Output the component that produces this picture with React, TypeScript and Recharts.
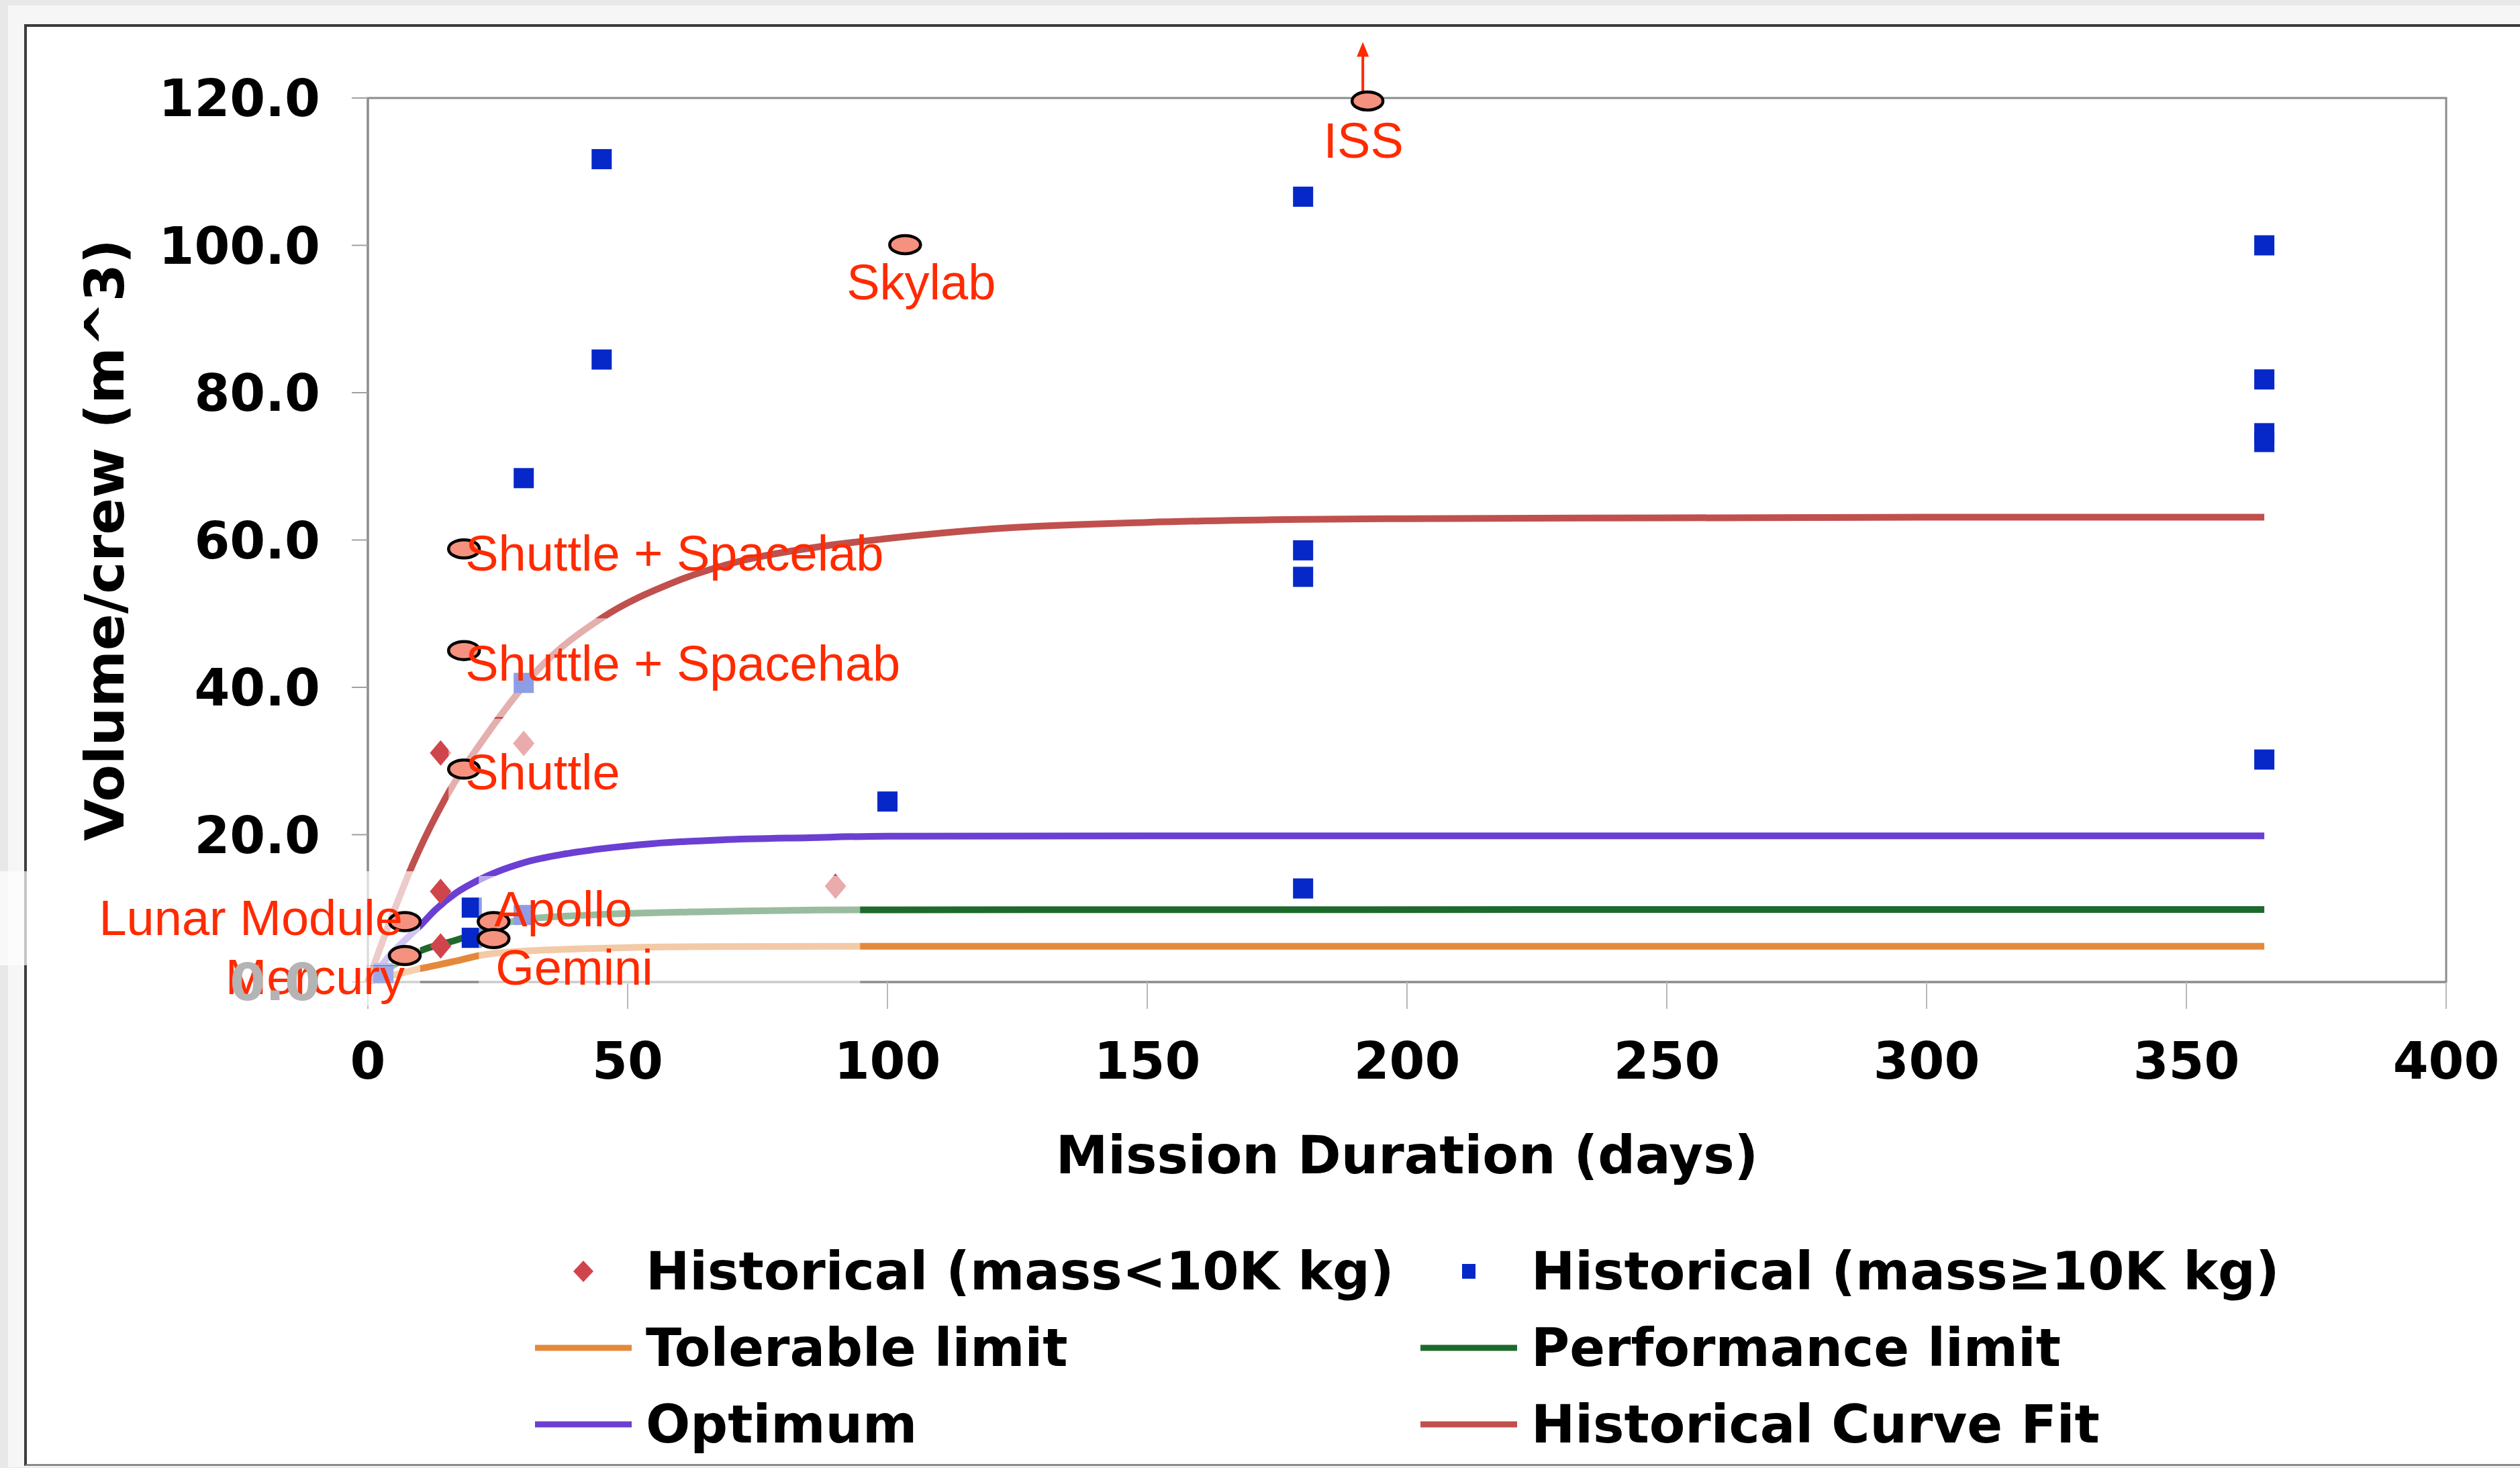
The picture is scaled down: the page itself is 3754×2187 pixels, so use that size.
import { ComposedChart, Line, Scatter, XAxis, YAxis, ReferenceArea } from 'recharts';

const W = 3754;
const H = 2187;

const xTicks = [0, 50, 100, 150, 200, 250, 300, 350, 400];
const yTicks = [0, 20, 40, 60, 80, 100, 120];

// historical missions, mass < 10K kg
const lightDays = [14, 14, 14, 30, 90];
const lightVolume = [31.1, 12.3, 4.9, 32.4, 13.0];

// historical missions, mass >= 10K kg
const heavyDays = [45, 45, 30, 30, 20, 20, 30, 3, 100, 180, 180, 180, 180, 365, 365, 365, 365, 365];
const heavyVolume = [111.7, 84.5, 68.4, 40.6, 10.1, 6.0, 9.1, 1.2, 24.5, 106.6, 58.6, 55.0, 12.7, 100.0, 81.8, 74.5, 73.3, 30.2];

// curves
const fitDays = [0, 5, 8.6, 14.8, 23, 33, 45, 59, 72, 86, 100, 120, 150, 180, 200, 250, 300, 365];
const fitVolume = [0, 9.6, 15.9, 24.8, 33.7, 42.6, 49.4, 54.3, 57.2, 59.0, 60.2, 61.5, 62.4, 62.8, 62.9, 63.0, 63.1, 63.1];

const optimumDays = [0, 5, 10, 13, 17, 21.5, 30, 38, 45, 55, 68, 85, 100, 150, 365];
const optimumVolume = [0, 4.2, 7.6, 9.8, 12.1, 13.9, 16.2, 17.4, 18.1, 18.8, 19.3, 19.6, 19.8, 19.85, 19.85];

const performanceDays = [0, 5, 10, 17, 30, 43, 65, 100, 365];
const performanceVolume = [0, 2.3, 4.2, 5.7, 8.5, 9.1, 9.55, 9.8, 9.85];

const tolerableDays = [0, 10, 17, 21.5, 30, 65, 100, 365];
const tolerableVolume = [0, 1.8, 2.85, 3.6, 4.2, 4.8, 4.85, 4.85];

// annotated spacecraft
const missionNames = ['ISS', 'Skylab', 'Shuttle + Spacelab', 'Shuttle + Spacehab', 'Shuttle', 'Lunar Module', 'Mercury', 'Apollo', 'Gemini'];
const missionDays = [192.4, 103.4, 18.5, 18.5, 18.5, 7.1, 7.1, 24.2, 24.2];
const missionVolume = [119.6, 100.1, 58.8, 45.0, 28.9, 8.2, 3.6, 8.2, 5.9];

const seriesNames = [
  'Historical (mass<10K kg)',
  'Historical (mass≥10K kg)',
  'Tolerable limit',
  'Performance limit',
  'Optimum',
  'Historical Curve Fit',
];

const COLORS = {
  light: '#d0454b',
  heavy: '#0628c8',
  tolerable: '#e4893c',
  performance: '#1e6a2c',
  optimum: '#6b3fd2',
  fit: '#c0504d',
  note: '#ff2a00',
  marker: '#f5917f',
  axis: '#8c8c8c',
};

const BOLD_FONT = '"DejaVu Sans", Verdana, sans-serif';
const NOTE_FONT = '"Liberation Sans", Arial, sans-serif';

type Veil = { x0: number; x1: number; y0: number; y1: number; o: number };

// where each mission label sits relative to its marker, and the pale box behind it
const labelPlace: Record<string, { dx: number; dy: number; anchor: 'start' | 'middle' | 'end'; veil?: Veil }> = {
  ISS: { dx: -6, dy: 85, anchor: 'middle' },
  Skylab: { dx: 24, dy: 82, anchor: 'middle' },
  'Shuttle + Spacelab': { dx: 2, dy: 32, anchor: 'start' },
  'Shuttle + Spacehab': { dx: 2, dy: 45, anchor: 'start', veil: { x0: -23, x1: 655, y0: -48, y1: 99, o: 0.55 } },
  Shuttle: { dx: 2, dy: 30, anchor: 'start', veil: { x0: -23, x1: 200, y0: -75, y1: 74, o: 0.55 } },
  'Lunar Module': { dx: -3, dy: 20, anchor: 'end', veil: { x0: -603, x1: 23, y0: -75, y1: 65, o: 0.7 } },
  Mercury: { dx: 0, dy: 58, anchor: 'end', veil: { x0: -270, x1: 23, y0: 15, y1: 75, o: 0.6 } },
  Apollo: { dx: 1, dy: 7, anchor: 'start', veil: { x0: -22, x1: 546, y0: -68, y1: 92, o: 0.55 } },
  Gemini: { dx: 3, dy: 69, anchor: 'start' },
};

const toPoints = (days: number[], vol: number[]) => days.map((d, i) => ({ d, v: vol[i] }));

const lightData = toPoints(lightDays, lightVolume);
const heavyData = toPoints(heavyDays, heavyVolume);
const fitData = toPoints(fitDays, fitVolume);
const optimumData = toPoints(optimumDays, optimumVolume);
const performanceData = toPoints(performanceDays, performanceVolume);
const tolerableData = toPoints(tolerableDays, tolerableVolume);
const missionData = missionNames.map((name, i) => ({ name, d: missionDays[i], v: missionVolume[i] }));

function Square(p: any) {
  const s = 30;
  return <rect x={p.cx - s / 2} y={p.cy - s / 2} width={s} height={s} fill={COLORS.heavy} />;
}

function Diamond(p: any) {
  const w = 16;
  const h = 19;
  return (
    <polygon
      points={`${p.cx},${p.cy - h} ${p.cx + w},${p.cy} ${p.cx},${p.cy + h} ${p.cx - w},${p.cy}`}
      fill={COLORS.light}
    />
  );
}

function MissionMark(p: any) {
  const name: string = p.payload.name;
  const place = labelPlace[name];
  const veil = place.veil;
  return (
    <g>
      {veil && (
        <rect
          x={p.cx + veil.x0}
          y={p.cy + veil.y0}
          width={veil.x1 - veil.x0}
          height={veil.y1 - veil.y0}
          fill="#fff"
          fillOpacity={veil.o}
        />
      )}
      {name === 'ISS' && (
        <g>
          <line x1={p.cx - 7} y1={p.cy - 12} x2={p.cx - 7} y2={p.cy - 70} stroke={COLORS.note} strokeWidth={4} />
          <polygon
            points={`${p.cx - 7},${p.cy - 88} ${p.cx - 16},${p.cy - 66} ${p.cx + 2},${p.cy - 66}`}
            fill={COLORS.note}
          />
        </g>
      )}
      <ellipse cx={p.cx} cy={p.cy} rx={23} ry={13.5} fill={COLORS.marker} stroke="#000" strokeWidth={4.5} />
      <text
        x={p.cx + place.dx}
        y={p.cy + place.dy}
        textAnchor={place.anchor}
        fontFamily={NOTE_FONT}
        fontSize={74}
        fill={COLORS.note}
      >
        {name}
      </text>
    </g>
  );
}

// the 0.0 label sits under the Mercury note and shows through faded
function YTick(p: any) {
  const v: number = p.payload.value;
  return (
    <text
      x={p.x}
      y={p.y}
      dy="0.36em"
      textAnchor="end"
      fontFamily={BOLD_FONT}
      fontSize={76}
      fontWeight="bold"
      fill={v === 0 ? '#b4b4b4' : '#000'}
    >
      {v.toFixed(1)}
    </text>
  );
}

function LegendMarker({ kind, color }: { kind: string; color: string }) {
  return (
    <svg width={144} height={40} style={{ display: 'block' }}>
      {kind === 'line' && <line x1={0} y1={20} x2={144} y2={20} stroke={color} strokeWidth={9} />}
      {kind === 'diamond' && <polygon points="72,4 87,20 72,36 57,20" fill={color} />}
      {kind === 'square' && <rect x={62} y={9} width={20} height={22} fill={color} />}
    </svg>
  );
}

const legendItems = [
  { name: seriesNames[0], kind: 'diamond', color: COLORS.light },
  { name: seriesNames[1], kind: 'square', color: COLORS.heavy },
  { name: seriesNames[2], kind: 'line', color: COLORS.tolerable },
  { name: seriesNames[3], kind: 'line', color: COLORS.performance },
  { name: seriesNames[4], kind: 'line', color: COLORS.optimum },
  { name: seriesNames[5], kind: 'line', color: COLORS.fit },
];

const tickStyle = { fontFamily: BOLD_FONT, fontSize: 76, fontWeight: 'bold', fill: '#000' };

export default function App() {
  return (
    <div style={{ position: 'absolute', left: 0, top: 0, width: W, height: H, background: '#e8e8e8', overflow: 'hidden' }}>
      <div style={{ position: 'absolute', left: 12, top: 8, width: W, height: 2178, background: '#f6f6f6' }} />
      <div
        style={{
          position: 'absolute', left: 36, top: 36, width: W, height: 2148,
          background: '#fff', borderTop: '4px solid #3c3c3c', borderLeft: '4px solid #3c3c3c', borderBottom: '3px solid #8a8a8a',
          boxSizing: 'border-box',
        }}
      />
      <div style={{ position: 'absolute', left: 0, top: 0 }}>
        <ComposedChart width={W} height={H} margin={{ top: 146, right: 110, left: 0, bottom: 524 }}>
          <XAxis
            type="number"
            dataKey="d"
            domain={[0, 400]}
            ticks={xTicks}
            height={200}
            stroke={COLORS.axis}
            strokeWidth={3}
            tickSize={40}
            tickMargin={50}
            tickLine={{ stroke: '#b8b8b8', strokeWidth: 2 }}
            tick={tickStyle}
            label={(props: any) => {
              const vb = props.viewBox;
              return (
                <text x={vb.x + vb.width / 2} y={vb.y + 285} textAnchor="middle" fontFamily={BOLD_FONT} fontSize={78} fontWeight="bold" fill="#000">
                  Mission Duration (days)
                </text>
              );
            }}
          />
          <YAxis
            type="number"
            dataKey="v"
            domain={[0, 120]}
            ticks={yTicks}
            width={548}
            stroke={COLORS.axis}
            strokeWidth={3}
            tickSize={24}
            tickMargin={47}
            tickLine={{ stroke: '#a0a0a0', strokeWidth: 2 }}
            tick={YTick}
            label={(props: any) => {
              const vb = props.viewBox;
              const cx = 184;
              const cy = vb.y + vb.height / 2;
              return (
                <text x={cx} y={cy} transform={`rotate(-90 ${cx} ${cy})`} textAnchor="middle" fontFamily={BOLD_FONT} fontSize={81} fontWeight="bold" fill="#000">
                  Volume/crew (m^3)
                </text>
              );
            }}
          />
          <ReferenceArea x1={0} x2={400} y1={0} y2={120} fill="none" stroke={COLORS.axis} strokeWidth={3} ifOverflow="visible" />
          <Line data={tolerableData} dataKey="v" type="monotone" stroke={COLORS.tolerable} strokeWidth={10} dot={false} isAnimationActive={false} />
          <Line data={performanceData} dataKey="v" type="monotone" stroke={COLORS.performance} strokeWidth={10} dot={false} isAnimationActive={false} />
          <Line data={optimumData} dataKey="v" type="monotone" stroke={COLORS.optimum} strokeWidth={10} dot={false} isAnimationActive={false} />
          <Line data={fitData} dataKey="v" type="monotone" stroke={COLORS.fit} strokeWidth={10} dot={false} isAnimationActive={false} />
          <Scatter data={lightData} dataKey="v" shape={Diamond} isAnimationActive={false} />
          <Scatter data={heavyData} dataKey="v" shape={Square} isAnimationActive={false} />
          <Scatter data={missionData} dataKey="v" shape={MissionMark} isAnimationActive={false} />
        </ComposedChart>
      </div>
      <div
        style={{
          position: 'absolute', left: 797, top: 1837,
          display: 'grid', gridTemplateColumns: '1319px 1300px', gridAutoRows: '114px',
          fontFamily: BOLD_FONT, fontWeight: 'bold', fontSize: 78, color: '#000',
        }}
      >
        {legendItems.map((it) => (
          <div key={it.name} style={{ display: 'flex', alignItems: 'center', whiteSpace: 'nowrap' }}>
            <LegendMarker kind={it.kind} color={it.color} />
            <span style={{ marginLeft: 21 }}>{it.name}</span>
          </div>
        ))}
      </div>
    </div>
  );
}
